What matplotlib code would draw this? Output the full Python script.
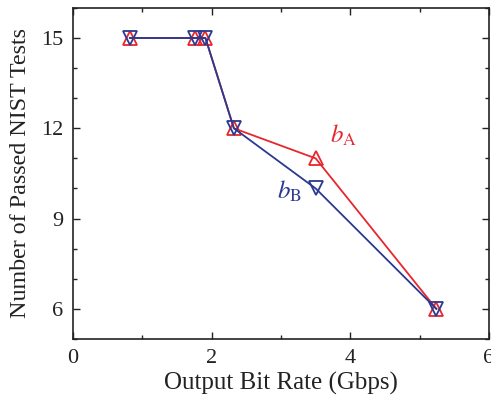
import numpy as np
import matplotlib
matplotlib.use("Agg")
import matplotlib.pyplot as plt
from matplotlib.ticker import MultipleLocator

plt.rcParams['font.family'] = ['Liberation Serif', 'DejaVu Serif']
plt.rcParams['mathtext.fontset'] = 'stix'

# data
bit_rate = [0.82, 1.76, 1.91, 2.32, 3.5, 5.24]
passed_a = [15, 15, 15, 12, 11, 6]
passed_b = [15, 15, 15, 12, 10, 6]

red = '#e8262d'
blue = '#2b3990'

fig = plt.figure(figsize=(4.91, 3.96), dpi=100)
ax = fig.add_axes([0.1487, 0.144, 0.8473, 0.836])

ax.plot(bit_rate, passed_a, color=red, lw=1.3, marker='^', ms=10,
        mfc='none', mec=red, mew=1.3)
ax.plot(bit_rate, passed_b, color=blue, lw=1.3, marker='v', ms=10,
        mfc='none', mec=blue, mew=1.3)

ax.text(3.9, 11.75, r'$b_{\mathrm{A}}$', color=red, fontsize=18,
        ha='center', va='center')
ax.text(3.12, 9.9, r'$b_{\mathrm{B}}$', color=blue, fontsize=18,
        ha='center', va='center')

ax.set_xlim(0, 6)
ax.set_ylim(5, 16)
ax.set_xticks([0, 2, 4, 6])
ax.set_yticks([6, 9, 12, 15])
ax.xaxis.set_minor_locator(MultipleLocator(1))
ax.yaxis.set_minor_locator(MultipleLocator(1))
ax.tick_params(which='both', direction='in', top=True, right=True,
               labelsize=16, width=1, colors='#222222', labelcolor='#222222')
ax.tick_params(which='major', length=5, pad=7)
ax.tick_params(which='minor', length=3)
for s in ax.spines.values():
    s.set_linewidth(1.2)
    s.set_color('#222222')

ax.set_xlabel('Output Bit Rate (Gbps)', fontsize=18, labelpad=3, color='#222222')
ax.set_ylabel('Number of Passed NIST Tests', fontsize=17.3, labelpad=7, color='#222222')

fig.savefig('out.png', dpi=100)
